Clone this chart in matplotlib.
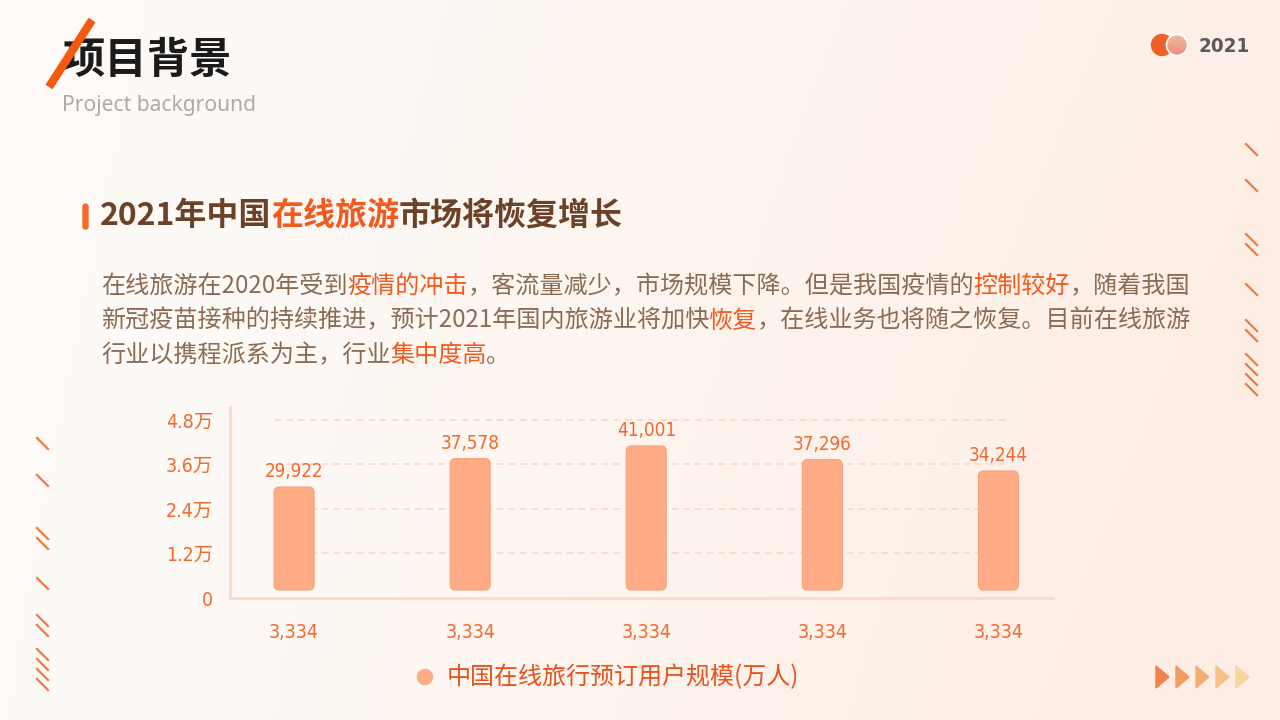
import numpy as np
import matplotlib
matplotlib.use("Agg")
import matplotlib.pyplot as plt
from matplotlib.patches import FancyBboxPatch, Circle, Polygon
from matplotlib.font_manager import findfont, FontProperties
from matplotlib import ft2font

# * Data
years_labels = ["3,334", "3,334", "3,334", "3,334", "3,334"]
users = [29922, 37578, 41001, 37296, 34244]
value_labels = ["29,922", "37,578", "41,001", "37,296", "34,244"]
y_ticks = [0, 12000, 24000, 36000, 48000]
y_tick_labels = ["0", "1.2万", "2.4万", "3.6万", "4.8万"]
legend_label = "中国在线旅行预订用户规模(万人)"

title_cn = "项目背景"
title_en = "Project background"
header_parts = [("2021年中国", "brown"), ("在线旅游", "orange"), ("市场将恢复增长", "brown")]
para_lines = [
    [("在线旅游在2020年受到", "text"), ("疫情的冲击", "orange"), ("，客流量减少，市场规模下降。但是我国疫情的", "text"),
     ("控制较好", "orange"), ("，随着我国", "text")],
    [("新冠疫苗接种的持续推进，预计2021年国内旅游业将加快", "text"), ("恢复", "orange"),
     ("，在线业务也将随之恢复。目前在线旅游", "text")],
    [("行业以携程派系为主，行业", "text"), ("集中度高", "orange"), ("。", "text")],
]

# * Style
CJK = ["Noto Sans CJK SC", "DejaVu Sans"]
NUM = ["DejaVu Sans", "Noto Sans CJK SC"]
plt.rcParams["font.family"] = CJK
colors = {"brown": "#6B4128", "orange": "#F25A1E", "text": "#8C6B55"}
ORANGE_NUM = "#F2692E"
BAR_COLOR = "#FFAC86"
BAR_EDGE = "#F7A07A"
GRID_COLOR = "#F9D9C8"
DPI = 100

fig = plt.figure(figsize=(12.8, 7.2), dpi=DPI)

# * Background overlay in pixel coordinates
bg = fig.add_axes([0, 0, 1, 1], zorder=0)
bg.set_xlim(0, 1280)
bg.set_ylim(720, 0)
bg.axis("off")
gx, gy = np.meshgrid(np.linspace(0, 1, 256), np.linspace(0, 1, 144))
t = np.clip(0.85 * gx ** 1.3 + 0.25 * gy * gx + 0.05 * gy, 0, 1)
c0 = np.array([253, 251, 248]) / 255
c1 = np.array([254, 237, 228]) / 255
img = c0[None, None, :] * (1 - t[..., None]) + c1[None, None, :] * t[..., None]
bg.imshow(img, extent=[0, 1280, 720, 0], aspect="auto", zorder=0)

# title
bg.text(62, 61, title_cn, fontsize=30.5, weight="bold", color="#1B1B1B", va="center", ha="left", zorder=2)
bg.plot([49, 92], [87, 20], color="#F25A0F", lw=6, solid_capstyle="butt", zorder=3)
bg.text(62, 106, title_en, fontsize=15.2, color="#ABABAB", va="center", ha="left",
        family=["Noto Sans", "DejaVu Sans"], zorder=2)

# top right logo
bg.add_patch(Circle((1162, 45), 10.5, color="#EE6128", zorder=2))
circ = Circle((1177, 45), 10.5, facecolor="none", edgecolor="white", lw=1.2, zorder=4)
bg.add_patch(circ)
grad = np.linspace(0, 1, 50)[:, None] * np.ones((1, 2))
cg0 = np.array([237, 190, 152]) / 255
cg1 = np.array([240, 136, 132]) / 255
gimg = cg0[None, None, :] * (1 - grad[..., None]) + cg1[None, None, :] * grad[..., None]
im = bg.imshow(gimg, extent=[1166, 1188, 56, 34], aspect="auto", zorder=3)
im.set_clip_path(Circle((1177, 45), 10.5, transform=bg.transData))
bg.text(1198, 46, "2021", fontsize=14.7, weight="bold", color="#5A5A5A", va="center", ha="left",
        family="DejaVu Sans", fontstretch="condensed", zorder=2)

try:
    NO_HINT = ft2font.LoadFlags.NO_HINTING
except AttributeError:
    NO_HINT = ft2font.LOAD_NO_HINTING


def advance_width(s, size, weight):
    # sum of glyph advances in pixels
    path = findfont(FontProperties(family="Noto Sans CJK SC", weight=weight))
    font = ft2font.FT2Font(path)
    font.set_size(size, DPI)
    w = 0.0
    for ch in s:
        g = font.load_char(ord(ch), flags=NO_HINT)
        w += g.linearHoriAdvance / 65536
    return w


def rich_text(x, y, parts, size, weight="normal"):
    for s, key in parts:
        bg.text(x, y, s, color=colors[key], fontsize=size, weight=weight, va="center", ha="left", zorder=2)
        x += advance_width(s, size, weight)


# section header
bg.add_patch(FancyBboxPatch((83, 204), 5, 25, boxstyle="round,pad=0,rounding_size=2.5",
                            color="#F26B2E", zorder=2))
rich_text(100, 216, header_parts, 23, weight="bold")

# paragraph
for i, line in enumerate(para_lines):
    rich_text(101, 286 + i * 34.5, line, 17.35)

# decorative slashes
right_y = [144, 180, 234, 244, 284, 320, 330, 354, 364, 374, 384]
left_y = [438, 475, 528, 538, 578, 615, 625, 649, 659, 669, 679]
for yy in right_y:
    bg.plot([1246, 1257], [yy, yy + 11], color="#F57A3A", lw=1.6, zorder=2)
for yy in left_y:
    bg.plot([37, 48], [yy, yy + 11], color="#F57A3A", lw=1.6, zorder=2)

# arrows
arrow_cols = ["#F0844A", "#F39A5E", "#F5AE72", "#F6C28A", "#F5D69E"]
for i, c in enumerate(arrow_cols):
    x0 = 1156 + i * 20
    bg.add_patch(Polygon([[x0, 666], [x0 + 13, 677], [x0, 688]], closed=True, color=c, zorder=2))

# legend
bg.add_patch(Circle((425, 677), 7.5, color=BAR_COLOR, zorder=2))
bg.text(447, 677, legend_label, fontsize=17.3, color="#E8521C", va="center", ha="left", zorder=2)

# * Chart
ax = fig.add_axes([230 / 1280, (720 - 598) / 720, (1053 - 230) / 1280, (598 - 407) / 720], zorder=1)
ax.patch.set_alpha(0)
x = np.arange(len(users))
ax.set_xlim(-0.364, 4.31)
ax.set_ylim(0, 51500)

ax_w = (1053 - 230)
ax_h = (598 - 407)
px_x = ax_w / (4.31 + 0.364)
px_y = ax_h / 51500
aspect = px_x / px_y

bar_w = 0.227
gap = 8 / px_y
for xi, v in zip(x, users):
    p = FancyBboxPatch((xi - bar_w / 2, gap), bar_w, v - gap,
                       boxstyle="round,pad=0,rounding_size=0.03", mutation_aspect=aspect,
                       facecolor=BAR_COLOR, edgecolor=BAR_EDGE, lw=0.8, zorder=3)
    ax.add_patch(p)
for xi, v, lab in zip(x, users, value_labels):
    ax.annotate(lab, (xi, v), xytext=(0, 4), textcoords="offset points", ha="center", va="bottom",
                fontsize=13.5, color=ORANGE_NUM, family=NUM, fontstretch="condensed", zorder=4)

ax.hlines(y_ticks[1:], -0.108, 4.057, colors=GRID_COLOR, linestyles=(0, (4, 3)), lw=1.2, zorder=1)

for s in ["top", "right"]:
    ax.spines[s].set_visible(False)
for s in ["left", "bottom"]:
    ax.spines[s].set_color(GRID_COLOR)
    ax.spines[s].set_linewidth(1.8)

ax.set_xticks(x)
ax.set_xticklabels(years_labels)
ax.set_yticks(y_ticks)
ax.set_yticklabels(y_tick_labels)
ax.tick_params(length=0)
ax.tick_params(axis="x", pad=18)
ax.tick_params(axis="y", pad=12)
for lab in ax.get_xticklabels() + ax.get_yticklabels():
    lab.set_color(ORANGE_NUM)
    lab.set_fontsize(14)
    lab.set_family(NUM)
    lab.set_fontstretch("condensed")

fig.savefig("out.png", dpi=DPI)
